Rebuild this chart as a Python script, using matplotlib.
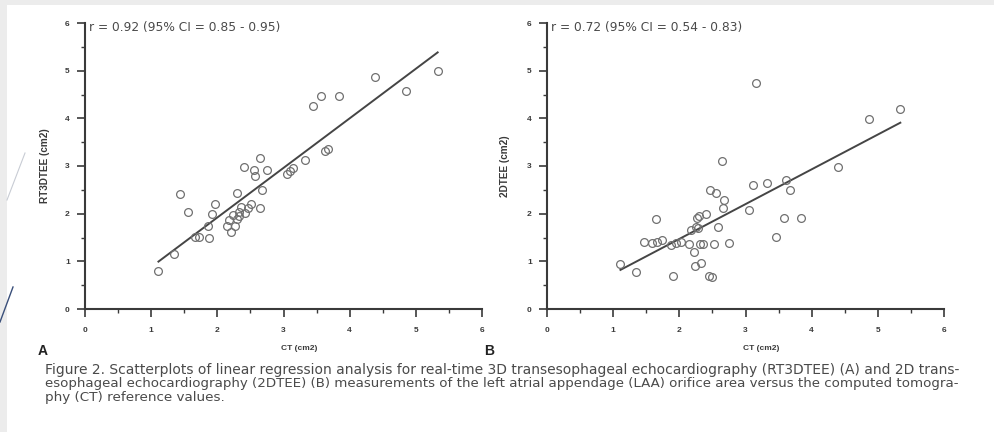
import numpy as np
import matplotlib
matplotlib.use("Agg")
import matplotlib.pyplot as plt
from matplotlib.patches import Rectangle
from matplotlib.lines import Line2D

plt.rcParams['font.family'] = ['Liberation Sans', 'DejaVu Sans']

# panel A: RT3DTEE vs CT
ct_a = [1.11, 1.35, 1.44, 1.56, 1.67, 1.72, 1.86, 1.88, 1.92, 1.97, 2.14, 2.17,
        2.20, 2.24, 2.29, 2.30, 2.33, 2.36, 2.40, 2.42, 2.47, 2.51, 2.55, 2.57,
        2.64, 2.64, 2.67, 2.75, 3.05, 3.10, 3.14, 3.32, 3.45, 3.57, 3.62, 3.68,
        3.84, 4.39, 4.85, 5.33, 2.26, 2.32]
rt3d_a = [0.80, 1.16, 2.42, 2.03, 1.51, 1.51, 1.74, 1.48, 2.00, 2.21, 1.74, 1.87,
          1.61, 1.97, 2.43, 1.88, 2.04, 2.15, 2.97, 2.01, 2.11, 2.21, 2.92, 2.78,
          2.12, 3.17, 2.49, 2.92, 2.84, 2.89, 2.96, 3.12, 4.25, 4.47, 3.31, 3.35,
          4.47, 4.86, 4.57, 5.00, 1.75, 1.95]

# panel B: 2DTEE vs CT
ct_b = [1.11, 1.35, 1.46, 1.58, 1.64, 1.67, 1.74, 1.87, 1.90, 1.95, 2.02, 2.15,
        2.18, 2.22, 2.23, 2.27, 2.28, 2.31, 2.33, 2.36, 2.40, 2.45, 2.50, 2.47,
        2.55, 2.53, 2.58, 2.65, 2.67, 2.66, 2.75, 3.05, 3.11, 3.16, 3.32, 3.46,
        3.58, 3.61, 3.68, 3.84, 4.40, 4.86, 5.34, 2.30, 2.25]
tee2d_b = [0.94, 0.78, 1.41, 1.38, 1.89, 1.40, 1.45, 1.34, 0.69, 1.38, 1.41, 1.36,
           1.66, 1.19, 0.91, 1.90, 1.69, 1.36, 0.96, 1.36, 2.00, 0.69, 0.68, 2.50,
           2.43, 1.37, 1.73, 3.10, 2.29, 2.12, 1.38, 2.08, 2.61, 4.74, 2.64, 1.52,
           1.90, 2.71, 2.50, 1.90, 2.97, 3.99, 4.19, 1.95, 1.72]

# regression lines (slope, intercept)
fit_a = [1.04, -0.16]
fit_b = [0.73, 0.01]

stats_a = "r = 0.92 (95% CI = 0.85 - 0.95)"
stats_b = "r = 0.72 (95% CI = 0.54 - 0.83)"
ylabels = ["RT3DTEE (cm2)", "2DTEE (cm2)"]
xlabel = "CT (cm2)"
caption = [
    "Figure 2. Scatterplots of linear regression analysis for real-time 3D transesophageal echocardiography (RT3DTEE) (A) and 2D trans-",
    "esophageal echocardiography (2DTEE) (B) measurements of the left atrial appendage (LAA) orifice area versus the computed tomogra-",
    "phy (CT) reference values.",
]

W, H = 994, 432
fig = plt.figure(figsize=(W / 100, H / 100), dpi=100)
fig.patch.set_facecolor("#ececec")

# white page on the slide
fig.patches.append(Rectangle((7 / W, 0), 1, 1 - 5 / H, transform=fig.transFigure,
                             facecolor="white", edgecolor="none", zorder=-10))
fig.lines.append(Line2D([0 / W, 13 / W], [1 - 322 / H, 1 - 287 / H], transform=fig.transFigure,
                        color="#3a4f7a", lw=1.0, zorder=-5))
fig.lines.append(Line2D([7 / W, 25 / W], [1 - 200 / H, 1 - 153 / H], transform=fig.transFigure,
                        color="#c8ccd4", lw=0.8, zorder=-5))

ink = "#3a3a3a"


def panel(left, xs, ys, fit, stats, ylab, ylab_x):
    ax = fig.add_axes([left / W, 1 - 309 / H, 397 / W, 286 / H])
    ax.set_facecolor("none")
    ax.plot(xs, ys, ls="", marker="o", ms=5.6, mfc="none", mec="#707070", mew=0.9, zorder=3)
    xl = np.array([min(xs), max(xs)])
    ax.plot(xl, fit[0] * xl + fit[1], color="#454545", lw=1.4, zorder=2)
    ax.set_xlim(0, 6)
    ax.set_ylim(0, 6)
    ax.set_xticks(range(7))
    ax.set_yticks(range(7))
    ax.set_xticks(np.arange(0.5, 6, 1), minor=True)
    ax.set_yticks(np.arange(0.5, 6, 1), minor=True)
    for s in ["top", "right"]:
        ax.spines[s].set_visible(False)
    for s in ["left", "bottom"]:
        ax.spines[s].set_color(ink)
        ax.spines[s].set_linewidth(1.5)
    ax.tick_params(which="major", direction="out", length=6, width=1.2, color=ink,
                   labelsize=6, labelcolor=ink, pad=7)
    ax.tick_params(axis="y", which="major", pad=5)
    ax.tick_params(which="minor", direction="out", length=3, width=1.0, color=ink)
    for t in ax.get_xticklabels() + ax.get_yticklabels():
        t.set_fontweight("bold")
    ax.set_xlabel(xlabel, fontsize=6, fontweight="bold", color=ink)
    ax.xaxis.set_label_coords(0.54, -(348 - 309) / 286)
    ax.xaxis.label.set_va("center")
    ax.set_ylabel(ylab, fontsize=7.2, fontweight="bold", color=ink)
    ax.yaxis.set_label_coords(-(left - ylab_x) / 397, 0.5)
    ax.yaxis.label.set_va("center")
    ax.text(0.01, 0.985, stats, transform=ax.transAxes, fontsize=8.8, family="DejaVu Sans",
            color="#4a4a4a", ha="left", va="center")
    return ax


panel(85, ct_a, rt3d_a, fit_a, stats_a, ylabels[0], 45)
panel(547, ct_b, tee2d_b, fit_b, stats_b, ylabels[1], 505)

fig.text(38 / W, 1 - 351 / H, "A", fontsize=10, fontweight="bold", color="#222222", va="center")
fig.text(484 / W, 1 - 351 / H, "B", fontsize=10, fontweight="bold", color="#222222", va="center")

caption_y = [370, 384, 398]
caption_size = [10.0, 9.6, 9.7]
for line, yy, fs in zip(caption, caption_y, caption_size):
    fig.text(45 / W, 1 - yy / H, line, fontsize=fs, family="DejaVu Sans",
             color="#4a4a4a", va="center")

fig.savefig("out.png", dpi=100, facecolor=fig.get_facecolor())
